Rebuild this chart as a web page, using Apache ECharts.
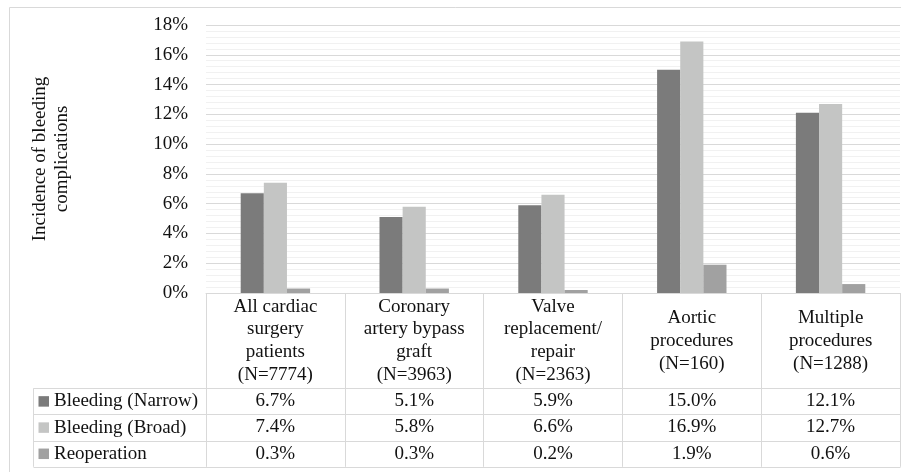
<!DOCTYPE html>
<html>
<head>
<meta charset="utf-8">
<script src="https://cdn.jsdelivr.net/npm/echarts@6/dist/echarts.min.js"></script>
<style>
  html, body { margin: 0; padding: 0; background: #fff; }
  #chart { width: 901px; height: 472px; }
</style>
</head>
<body>
<div id="chart"></div>
<script>
// Procedure groups (x-axis categories)
const categories = [
  'All cardiac\nsurgery\npatients\n(N=7774)',
  'Coronary\nartery bypass\ngraft\n(N=3963)',
  'Valve\nreplacement/\nrepair\n(N=2363)',
  'Aortic\nprocedures\n(N=160)',
  'Multiple\nprocedures\n(N=1288)'
];

// Incidence (%) per group
const bleedingNarrow = [6.7, 5.1, 5.9, 15.0, 12.1];
const bleedingBroad  = [7.4, 5.8, 6.6, 16.9, 12.7];
const reoperation    = [0.3, 0.3, 0.2, 1.9, 0.6];

const seriesNames = ['Bleeding (Narrow)', 'Bleeding (Broad)', 'Reoperation'];
const seriesValues = [bleedingNarrow, bleedingBroad, reoperation];
const seriesColors = ['#7b7b7b', '#c4c5c4', '#a1a1a1'];

const yMin = 0, yMax = 18, yStep = 2;

const FONT = '"Liberation Serif", "Times New Roman", serif';
const TEXT = '#111';
const LINE = '#d9d9d9';

const GRID_LEFT = 206, GRID_RIGHT_X = 900, GRID_TOP = 25, AXIS_Y = 293;
const ROW_LINES = [388.3, 414.3, 440.6, 466.8];

const chart = echarts.init(document.getElementById('chart'), null, { renderer: 'canvas' });

// One extra bottom category axis per table row: its labels are the row's values
const tableAxes = seriesValues.map((vals, r) => ({
  type: 'category',
  gridIndex: 0,
  position: 'bottom',
  data: categories,
  offset: (ROW_LINES[r] + ROW_LINES[r + 1]) / 2 - AXIS_Y,
  axisLine: { show: false },
  axisTick: { show: false },
  splitLine: { show: false },
  axisLabel: {
    interval: 0,
    margin: 0,
    verticalAlign: 'middle',
    fontFamily: FONT,
    fontSize: 19,
    color: TEXT,
    formatter: (v, i) => vals[i].toFixed(1) + '%'
  }
}));

const option = {
  animation: false,
  backgroundColor: '#fff',
  textStyle: { fontFamily: FONT },
  grid: {
    left: GRID_LEFT,
    right: 901 - GRID_RIGHT_X,
    top: GRID_TOP,
    bottom: 472 - AXIS_Y,
    containLabel: false
  },
  legend: {
    orient: 'vertical',
    left: 38.5,
    top: ROW_LINES[0],
    padding: 0,
    itemGap: 0,
    itemWidth: 10.5,
    itemHeight: 10.5,
    icon: 'rect',
    selectedMode: false,
    data: seriesNames,
    textStyle: {
      fontFamily: FONT,
      fontSize: 19,
      color: TEXT,
      lineHeight: 26.2,
      padding: [0, 0, 0, 0]
    }
  },
  xAxis: [
    {
      type: 'category',
      data: categories,
      axisLine: { show: true, lineStyle: { color: LINE, width: 1 } },
      axisTick: {
        show: true,
        alignWithLabel: false,
        length: ROW_LINES[3] - AXIS_Y,
        lineStyle: { color: LINE, width: 1 }
      },
      axisLabel: {
        interval: 0,
        margin: 47.8,
        verticalAlign: 'middle',
        align: 'center',
        fontFamily: FONT,
        fontSize: 19,
        lineHeight: 22.8,
        color: TEXT
      }
    }
  ].concat(tableAxes),
  yAxis: {
    type: 'value',
    min: yMin,
    max: yMax,
    interval: yStep,
    name: 'Incidence of bleeding\ncomplications',
    nameLocation: 'middle',
    nameGap: 133,
    nameTextStyle: {
      fontFamily: FONT,
      fontSize: 19,
      lineHeight: 22,
      color: TEXT,
      align: 'center'
    },
    axisLine: { show: false },
    axisTick: { show: false },
    axisLabel: {
      margin: 18,
      fontFamily: FONT,
      fontSize: 19,
      color: TEXT,
      formatter: '{value}%'
    },
    splitLine: { show: true, lineStyle: { color: LINE, width: 1 } },
    minorTick: { show: false, splitNumber: 5 },
    minorSplitLine: { show: true, lineStyle: { color: '#f1f1f1', width: 1 } }
  },
  series: seriesNames.map((name, i) => ({
    name: name,
    type: 'bar',
    xAxisIndex: 0,
    data: seriesValues[i],
    barGap: '0%',
    barCategoryGap: '50%',
    itemStyle: { color: seriesColors[i] }
  })),
  graphic: [
    // chart frame
    {
      type: 'rect',
      shape: { x: 9.5, y: 7.5, width: 900, height: 470 },
      style: { fill: 'none', stroke: LINE, lineWidth: 1 },
      silent: true
    },
    // data table: left border and row rules
    {
      type: 'line',
      shape: { x1: 33.5, y1: ROW_LINES[0], x2: 33.5, y2: ROW_LINES[3] },
      style: { stroke: LINE, lineWidth: 1 },
      silent: true
    }
  ].concat(ROW_LINES.map(y => ({
    type: 'line',
    shape: { x1: 33.5, y1: Math.round(y) + 0.5, x2: GRID_RIGHT_X + 0.5, y2: Math.round(y) + 0.5 },
    style: { stroke: LINE, lineWidth: 1 },
    silent: true
  })))
};

chart.setOption(option);
</script>
</body>
</html>
